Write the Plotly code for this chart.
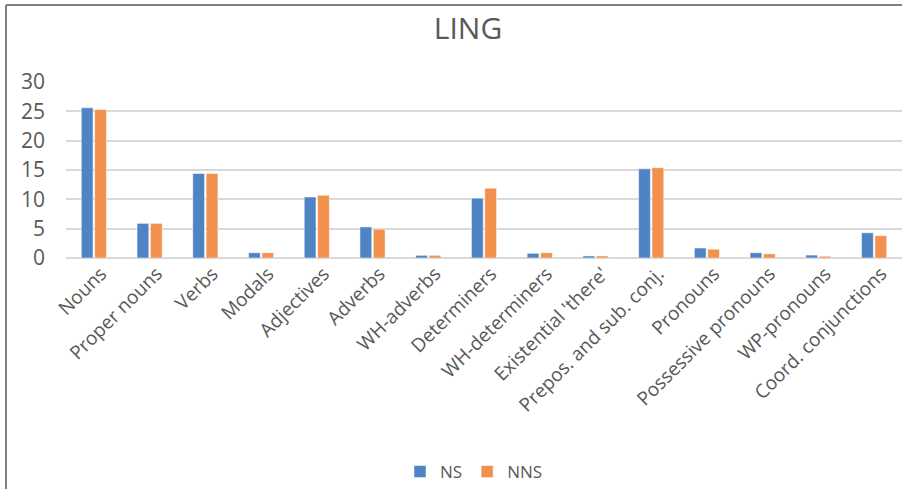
import plotly.graph_objects as go

categories = ['Nouns', 'Proper nouns', 'Verbs', 'Modals', 'Adjectives', 'Adverbs',
              'WH-adverbs', 'Determiners', 'WH-determiners', "Existential 'there'",
              'Prepos. and sub. conj.', 'Pronouns', 'Possessive pronouns',
              'WP-pronouns', 'Coord. conjunctions']
ns_values = [25.6, 5.9, 14.4, 0.9, 10.4, 5.3, 0.45, 10.2, 0.8, 0.35, 15.2, 1.7, 0.9, 0.5, 4.3]
nns_values = [25.3, 5.9, 14.4, 0.9, 10.7, 4.9, 0.45, 11.9, 0.9, 0.35, 15.4, 1.5, 0.7, 0.3, 3.8]
y_ticks = [0, 5, 10, 15, 20, 25, 30]

text_color = '#595959'
font = {'family': 'Open Sans, Lato, sans-serif', 'color': text_color}

# plot area in pixels, used to place the frame and legend in paper coords
plot_left, plot_right = 66, 902
plot_top, plot_bottom = 82, 258
pw = plot_right - plot_left
ph = plot_bottom - plot_top


def px_x(x):
    return (x - plot_left) / pw


def px_y(y):
    return (plot_bottom - y) / ph


fig = go.Figure(
    data=[
        go.Bar(name='NS', x=categories, y=ns_values,
               marker=dict(color='#4F84C4', line=dict(color='white', width=0.5))),
        go.Bar(name='NNS', x=categories, y=nns_values,
               marker=dict(color='#F2914E', line=dict(color='white', width=0.5))),
    ]
)

fig.update_layout(
    width=902,
    height=489,
    margin=dict(l=plot_left, r=902 - plot_right, t=plot_top, b=489 - plot_bottom,
                autoexpand=False),
    paper_bgcolor='white',
    plot_bgcolor='white',
    barmode='group',
    bargap=0.52,
    bargroupgap=0.12,
    font=font,
    title=dict(
        text='LING',
        x=px_x(468),
        xref='paper',
        xanchor='center',
        y=1 - 28 / 489,
        yanchor='middle',
        font={'size': 30, 'color': text_color, 'family': font['family']},
    ),
    legend=dict(
        orientation='h',
        x=px_x(474),
        xanchor='center',
        y=px_y(472),
        yanchor='middle',
        font={'size': 17, 'color': text_color},
        itemwidth=30,
        traceorder='normal',
    ),
    shapes=[
        dict(type='line', xref='paper', yref='paper',
             x0=px_x(6), x1=px_x(6), y0=px_y(5), y1=px_y(489),
             line=dict(color='#7f7f7f', width=2)),
        dict(type='line', xref='paper', yref='paper',
             x0=px_x(6), x1=px_x(902), y0=px_y(5), y1=px_y(5),
             line=dict(color='#7f7f7f', width=2)),
    ],
)

fig.update_xaxes(
    tickangle=-45,
    tickfont={'size': 19, 'color': text_color},
    showline=False,
    showgrid=False,
    ticks='',
    ticklabelshift=7,
)
fig.update_yaxes(
    range=[0, 30],
    tickvals=y_ticks,
    tickfont={'size': 21, 'color': text_color},
    gridcolor='#d9d9d9',
    gridwidth=1.5,
    zeroline=True,
    zerolinecolor='#d9d9d9',
    zerolinewidth=1.5,
    ticklabelstandoff=20,
)

fig.write_html('out.html', config={'displayModeBar': False},
               post_script="document.body.style.margin='0';")
